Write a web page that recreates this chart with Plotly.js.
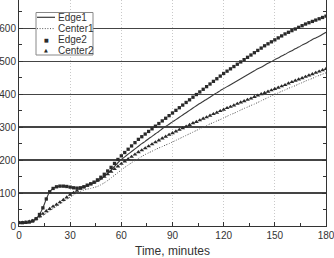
<!DOCTYPE html>
<html>
<head>
<meta charset="utf-8">
<script src="https://cdn.plot.ly/plotly-3.0.1.min.js"></script>
<style>html,body{margin:0;padding:0;background:#fff;}#chart{width:334px;height:258px;}</style>
</head>
<body>
<div id="chart"></div>
<script>
// time, minutes (every 2 min)
var time = [0,2,4,6,8,10,12,14,16,18,20,22,24,26,28,30,32,34,36,38,40,42,44,46,48,50,52,54,56,58,60,62,64,66,68,70,72,74,76,78,80,82,84,86,88,90,92,94,96,98,100,102,104,106,108,110,112,114,116,118,120,122,124,126,128,130,132,134,136,138,140,142,144,146,148,150,152,154,156,158,160,162,164,166,168,170,172,174,176,178,180];

var edge1 = [10,10,11,12,15,22,35,55,82,104,114,119,121,121,120,118,116,115,116,119,124,127,131,136,142,151,160,170,181,192,202,210,218,226,234,242,250,257,265,272,280,287,295,302,309,316,323,330,337,344,351,358,365,372,378,385,391,398,404,411,417,423,429,435,441,447,453,459,465,471,477,482,488,494,499,505,510,516,521,527,532,538,543,549,554,560,566,571,576,582,588];

var center1 = [9,9,10,12,14,19,25,32,39,46,53,60,67,74,81,88,94,100,105,109,112,114,117,120,125,131,138,146,154,162,170,178,185,192,199,205,211,217,222,227,232,237,241,246,250,255,260,265,270,275,280,285,290,295,300,305,310,314,319,323,328,333,338,342,347,352,357,361,366,370,375,380,385,390,395,400,404,409,413,418,422,426,431,435,440,444,448,453,457,461,465];

var edge2 = [10,10,11,12,15,22,35,55,82,104,114,119,121,121,120,118,116,115,116,119,124,128,133,140,148,157,167,178,190,202,213,223,233,243,253,263,271,279,287,295,303,311,319,327,335,343,351,359,367,375,383,391,399,407,415,423,431,439,447,455,463,470,477,484,491,498,505,512,519,526,533,540,547,553,559,565,571,577,583,588,593,598,603,608,613,617,621,625,629,633,637];

var center2 = [10,10,11,13,16,22,29,37,45,52,59,65,72,79,87,95,101,107,113,118,122,127,132,138,144,150,157,165,173,181,189,196,203,210,217,224,230,236,242,248,254,260,266,271,277,282,287,292,297,302,307,312,316,321,326,330,335,340,344,349,353,358,362,366,371,375,379,383,387,392,396,400,404,408,412,416,420,424,428,433,437,441,445,449,453,457,461,465,469,473,477];

var seriesNames = ["Edge1", "Center1", "Edge2", "Center2"];
var xTicks = [0, 30, 60, 90, 120, 150, 180];
var yTicks = [0, 100, 200, 300, 400, 500, 600];

var ink = "#2a2a2a";
var dotDash = "1px,1.6px";
var traces = [
  {x: time, y: edge1, name: seriesNames[0], mode: "lines", line: {color: "#3a3a3a", width: 1.1, shape: "spline", smoothing: 0.6}, showlegend: false},
  {x: time, y: center1, name: seriesNames[1], mode: "lines", line: {color: "#555", width: 1, dash: dotDash, shape: "spline", smoothing: 0.6}, showlegend: false},
  {x: time, y: edge2, name: seriesNames[2], mode: "markers", marker: {symbol: "square", size: 3.3, color: ink}, showlegend: false},
  {x: time, y: center2, name: seriesNames[3], mode: "markers", marker: {symbol: "triangle-up", size: 4.2, color: ink}, showlegend: false}
];

// custom compact legend (paper coordinates)
var plotW = 307, plotH = 226;
function px(x) { return (x - 19) / plotW; }
function py(y) { return (226 - y) / plotH; }
var rowY = [17.3, 28.6, 39.6, 50.2];
var shapes = [
  {type: "rect", xref: "paper", yref: "paper", x0: px(36), x1: px(93), y0: py(55), y1: py(12.5), fillcolor: "#fff", line: {color: "#888", width: 1}, layer: "above"},
  {type: "line", xref: "paper", yref: "paper", x0: px(37), x1: px(55), y0: py(rowY[0]), y1: py(rowY[0]), line: {color: "#3a3a3a", width: 1.2}, layer: "above"},
  {type: "line", xref: "paper", yref: "paper", x0: px(37), x1: px(55), y0: py(rowY[1]), y1: py(rowY[1]), line: {color: "#555", width: 1, dash: dotDash}, layer: "above"}
];
var annotations = [];
for (var i = 0; i < seriesNames.length; i++) {
  annotations.push({xref: "paper", yref: "paper", x: px(56), y: py(rowY[i]), xanchor: "left", yanchor: "middle", text: seriesNames[i], showarrow: false, font: {family: "Liberation Sans, Arial, sans-serif", size: 10, color: "#333"}});
}
annotations.push({xref: "paper", yref: "paper", x: px(46), y: py(rowY[2]), xanchor: "center", yanchor: "middle", text: "■", showarrow: false, font: {family: "DejaVu Sans", size: 5, color: ink}});
annotations.push({xref: "paper", yref: "paper", x: px(46), y: py(rowY[3]), xanchor: "center", yanchor: "middle", text: "▲", showarrow: false, font: {family: "DejaVu Sans", size: 5, color: ink}});

var layout = {
  width: 334, height: 258,
  margin: {l: 19, r: 8, t: 0, b: 32},
  paper_bgcolor: "#fff", plot_bgcolor: "#fff",
  font: {family: "Liberation Sans, Arial, sans-serif", size: 10, color: "#333"},
  showlegend: false,
  xaxis: {
    range: [0, 180], tickvals: xTicks, ticktext: xTicks.map(String),
    ticklabeloverflow: "allow",
    showline: true, linecolor: "#333", linewidth: 1, mirror: false,
    ticks: "inside", ticklen: 4, tickcolor: "#333",
    minor: {dtick: 15, tick0: 0, ticks: "inside", ticklen: 3, tickcolor: "#333", showgrid: false},
    showgrid: true, gridcolor: "#bbb", gridwidth: 0.8, griddash: "1px,2px",
    zeroline: false,
    title: {text: "Time, minutes", font: {size: 12, color: "#333"}, standoff: 9}
  },
  yaxis: {
    range: [0, 686], tickvals: yTicks, ticktext: yTicks.map(String),
    ticklabeloverflow: "allow",
    showline: true, linecolor: "#333", linewidth: 1, mirror: "allticks",
    ticks: "inside", ticklen: 4, tickcolor: "#333",
    minor: {dtick: 50, tick0: 0, ticks: "inside", ticklen: 3, tickcolor: "#333", showgrid: false},
    showgrid: true, gridcolor: "#444", gridwidth: 1.4,
    zeroline: false
  },
  shapes: shapes,
  annotations: annotations
};

Plotly.newPlot("chart", traces, layout, {displayModeBar: false, staticPlot: true});
</script>
</body>
</html>
